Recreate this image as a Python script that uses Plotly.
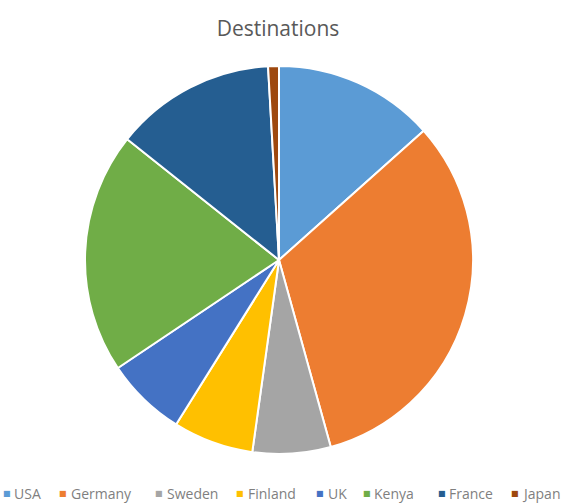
import plotly.graph_objects as go

# Share of trips per destination (percent)
countries = ["USA", "Germany", "Sweden", "Finland", "UK", "Kenya", "France", "Japan"]
shares = [13.4, 32.3, 6.5, 6.7, 6.7, 20.1, 13.4, 0.9]
colors = ["#5B9BD5", "#ED7D31", "#A5A5A5", "#FFC000",
          "#4472C4", "#70AD47", "#255E91", "#9E480E"]

W, H = 564, 503

# Pie placement in pixels (centre and radius)
cx, cy, r = 279, 260, 194

# Bottom legend: marker centre and label start (pixels from the left)
legend_marker_x = [7, 63, 159, 240, 320, 367, 442, 515]
legend_label_x = [12, 69, 165, 246, 326, 372, 447, 520]
legend_y = 493

fig = go.Figure(
    go.Pie(
        labels=countries,
        values=shares,
        marker=dict(colors=colors, line=dict(color="white", width=2)),
        sort=False,
        direction="clockwise",
        rotation=0,
        textinfo="none",
        hoverinfo="label+percent",
        showlegend=False,
        domain=dict(
            x=[(cx - r) / W, (cx + r) / W],
            y=[(H - cy - r) / H, (H - cy + r) / H],
        ),
    )
)

annotations = []
for name, col, mx, lx in zip(countries, colors, legend_marker_x, legend_label_x):
    annotations.append(dict(
        text="■", x=mx / W, y=(H - legend_y) / H, xref="paper", yref="paper",
        xanchor="center", yanchor="middle", showarrow=False,
        font=dict(size=8, color=col, family="DejaVu Sans"),
    ))
    annotations.append(dict(
        text=name, x=lx / W, y=(H - legend_y) / H, xref="paper", yref="paper",
        xanchor="left", yanchor="middle", showarrow=False,
        font=dict(size=14, color="#7F7F7F", family="Open Sans"),
    ))

fig.update_layout(
    width=W,
    height=H,
    margin=dict(l=0, r=0, t=0, b=0),
    paper_bgcolor="white",
    plot_bgcolor="white",
    title=dict(
        text="Destinations",
        x=278 / W, xanchor="center",
        y=(H - 29) / H, yanchor="middle",
        font=dict(size=21, color="#595959", family="Open Sans"),
    ),
    annotations=annotations,
)

fig.write_html("out.html")
